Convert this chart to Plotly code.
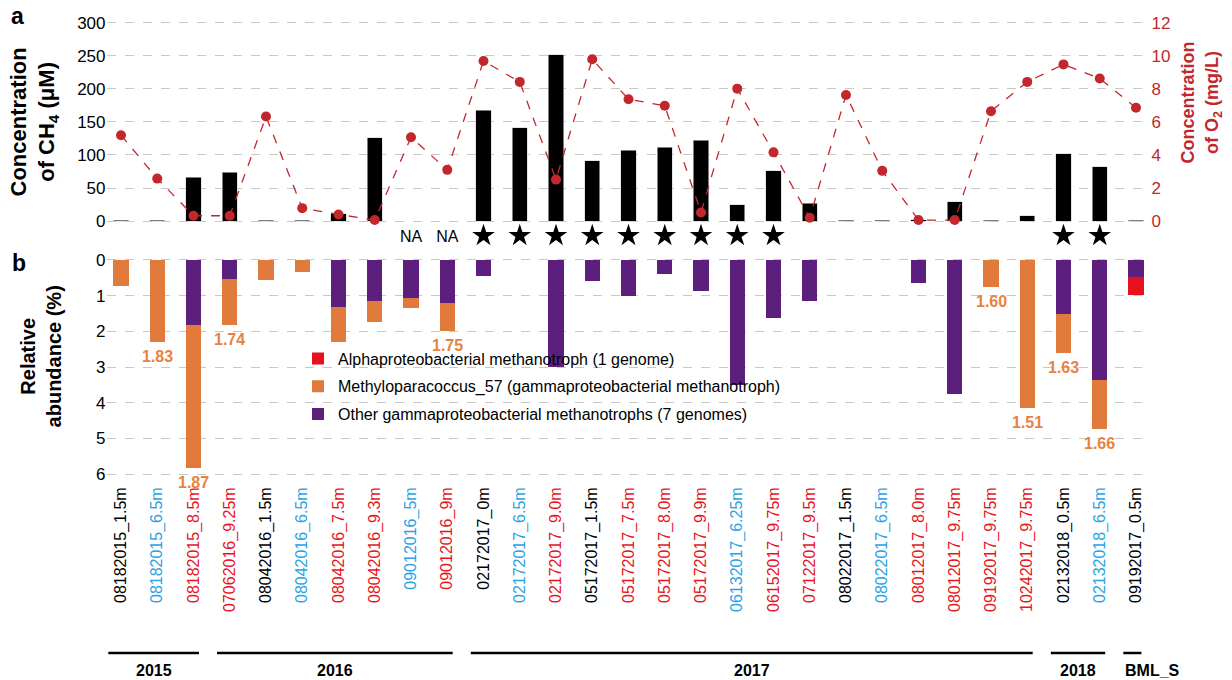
import plotly.graph_objects as go

# ---------------- data ----------------
samples = ["08182015_1.5m", "08182015_6.5m", "08182015_8.5m",
           "07062016_9.25m", "08042016_1.5m", "08042016_6.5m", "08042016_7.5m",
           "08042016_9.3m", "09012016_5m", "09012016_9m",
           "02172017_0m", "02172017_6.5m", "02172017_9.0m", "05172017_1.5m",
           "05172017_7.5m", "05172017_8.0m", "05172017_9.9m", "06132017_6.25m",
           "06152017_9.75m", "07122017_9.5m", "08022017_1.5m", "08022017_6.5m",
           "08012017_8.0m", "08012017_9.75m", "09192017_9.75m", "10242017_9.75m",
           "02132018_0.5m", "02132018_6.5m", "09192017_0.5m"]
label_colors = ["#000000", "#29a3e6", "#e8141e",
                "#e8141e", "#000000", "#29a3e6", "#e8141e", "#e8141e", "#29a3e6", "#e8141e",
                "#000000", "#29a3e6", "#e8141e", "#000000", "#e8141e", "#e8141e", "#e8141e",
                "#29a3e6", "#e8141e", "#e8141e", "#000000", "#29a3e6", "#e8141e", "#e8141e",
                "#e8141e", "#e8141e", "#000000", "#29a3e6", "#000000"]

ch4 = [1, 1, 66, 74, 1, 1, 11, 126, None, None,
       168, 141, 252, 91, 107, 112, 122, 25, 76, 27,
       1, 1, 2, 29, 1, 8, 102, 82, 1]
o2 = [5.2, 2.57, 0.32, 0.32, 6.33, 0.78, 0.4, 0.06, 5.07, 3.1,
      9.69, 8.43, 2.51, 9.8, 7.38, 6.98, 0.52, 8.02, 4.16, 0.2,
      7.64, 3.04, 0.06, 0.06, 6.65, 8.43, 9.49, 8.63, 6.86]
star_flag = [0, 0, 0, 0, 0, 0, 0, 0, 0, 0,
             1, 1, 1, 1, 1, 1, 1, 1, 1, 0,
             0, 0, 0, 0, 0, 0, 1, 1, 0]
na_flag = [0, 0, 0, 0, 0, 0, 0, 0, 1, 1,
           0, 0, 0, 0, 0, 0, 0, 0, 0, 0,
           0, 0, 0, 0, 0, 0, 0, 0, 0]

other_gamma = [0, 0, 1.81, 0.53, 0, 0, 1.32, 1.14, 1.06, 1.22,
               0.44, 0, 3.0, 0.58, 1.0, 0.39, 0.88, 3.5, 1.63, 1.14,
               0, 0, 0.66, 3.75, 0, 0, 1.51, 3.35, 0.49]
methylo57 = [0.73, 2.30, 4.02, 1.28, 0.57, 0.33, 0.98, 0.61, 0.29, 0.76,
             0, 0, 0, 0, 0, 0, 0, 0, 0, 0,
             0, 0, 0, 0, 0.76, 4.16, 1.11, 1.39, 0]
alpha = [0, 0, 0, 0, 0, 0, 0, 0, 0, 0,
         0, 0, 0, 0, 0, 0, 0, 0, 0, 0,
         0, 0, 0, 0, 0, 0, 0, 0, 0.49]
ratio_labels = [None, "1.83", "1.87", "1.74", None, None, None, None, None, "1.75",
                None, None, None, None, None, None, None, None, None, None,
                None, None, None, None, "1.60", "1.51", "1.63", "1.66", None]

groups = ["2015", "2016", "2017", "2018", "BML_S"]
group_first = [0, 3, 10, 26, 28]
group_last = [2, 9, 25, 27, 28]

ch4_ticks = [0, 50, 100, 150, 200, 250, 300]
o2_ticks = [0, 2, 4, 6, 8, 10, 12]
abund_ticks = [0, 1, 2, 3, 4, 5, 6]

# ---------------- style ----------------
FONT = "Liberation Sans, Arial, sans-serif"
O2_COL = "#c1272d"
PURPLE = "#5c1f7e"
ORANGE = "#e07b3c"
RED = "#e8101e"
LABEL_ORANGE = "#e8823f"
GRID = "#c8c8c8"
W, H = 1232, 680

def py(px):
    return (H - px) / H

xdom = [106.5 / W, 1150.5 / W]
xrange_ = [-0.4, 28.4]

fig = go.Figure()

# top panel
fig.add_trace(go.Bar(x=samples, y=ch4, marker=dict(color="black", line=dict(color="#d0d0d0", width=0.6)),
                     xaxis="x", yaxis="y", showlegend=False))
fig.add_trace(go.Scatter(x=samples, y=o2, mode="lines+markers", xaxis="x", yaxis="y2",
                         line=dict(color=O2_COL, dash="dash", width=1.3),
                         marker=dict(color=O2_COL, size=10), showlegend=False))
star_x = [s for s, f in zip(samples, star_flag) if f]
fig.add_trace(go.Scatter(x=star_x, y=[-22] * len(star_x), mode="markers", xaxis="x", yaxis="y",
                         marker=dict(symbol="star", size=17, color="black"),
                         cliponaxis=False, showlegend=False))
na_x = [s for s, f in zip(samples, na_flag) if f]
fig.add_trace(go.Scatter(x=na_x, y=[-26] * len(na_x), mode="text", text=["NA"] * len(na_x),
                         textfont=dict(size=16, color="black", family=FONT), xaxis="x", yaxis="y",
                         cliponaxis=False, showlegend=False))

# bottom panel
fig.add_trace(go.Bar(x=samples, y=other_gamma, name="Other gammaproteobacterial methanotrophs (7 genomes)",
                     marker=dict(color=PURPLE, line=dict(width=0)), xaxis="x2", yaxis="y3",
                     legendgroup="c", legendrank=3))
fig.add_trace(go.Bar(x=samples, y=methylo57, name="Methyloparacoccus_57 (gammaproteobacterial methanotroph)",
                     marker=dict(color=ORANGE, line=dict(width=0)), xaxis="x2", yaxis="y3",
                     legendgroup="b", legendrank=2))
fig.add_trace(go.Bar(x=samples, y=alpha, name="Alphaproteobacterial methanotroph (1 genome)",
                     marker=dict(color=RED, line=dict(width=0)), xaxis="x2", yaxis="y3",
                     legendgroup="a", legendrank=1))

for s, og, m, r in zip(samples, other_gamma, methylo57, ratio_labels):
    if r is not None:
        fig.add_annotation(text=f"<b>{r}</b>", x=s, y=og + m, xref="x2", yref="y3",
                           showarrow=False, xanchor="center", yanchor="top", yshift=-4,
                           font=dict(size=16, color=LABEL_ORANGE))

ticktext = [f'<span style="color:{c}">{s}</span>' for s, c in zip(samples, label_colors)]

fig.update_layout(
    width=W, height=H, margin=dict(l=0, r=0, t=0, b=0),
    paper_bgcolor="white", plot_bgcolor="white",
    font=dict(family=FONT, size=16, color="black"),
    barmode="stack", bargap=0.58,
    xaxis=dict(domain=xdom, anchor="y", type="category", range=xrange_, showticklabels=False,
               showgrid=False, showline=False, zeroline=False, ticks=""),
    yaxis=dict(domain=[py(239.9), py(14.4)], range=[-30, 310], tickvals=ch4_ticks,
               showgrid=True, gridcolor=GRID, griddash="dash", gridwidth=1, zeroline=False,
               showline=False, ticks="", tickfont=dict(size=17)),
    yaxis2=dict(overlaying="y", side="right", anchor="x", range=[-1.2, 12.4], tickvals=o2_ticks,
                showgrid=False, zeroline=False, showline=False, ticks="",
                tickfont=dict(size=17, color=O2_COL)),
    xaxis2=dict(domain=xdom, anchor="y3", type="category", range=xrange_, tickangle=-90,
                tickvals=samples, ticktext=ticktext, tickfont=dict(size=16),
                showgrid=False, showline=False, zeroline=False, ticks=""),
    yaxis3=dict(domain=[py(483.3), py(250.0)], range=[6.25, -0.25], tickvals=abund_ticks,
                showgrid=True, gridcolor=GRID, griddash="dash", gridwidth=1, zeroline=False,
                showline=False, ticks="", tickfont=dict(size=17)),
    legend=dict(x=298 / W, y=py(341), xanchor="left", yanchor="top", bgcolor="rgba(0,0,0,0)",
                traceorder="grouped", tracegroupgap=4, font=dict(size=16)),
)

# panel letters and axis titles
fig.add_annotation(text="<b>a</b>", xref="paper", yref="paper", x=17 / W, y=py(14), showarrow=False,
                   font=dict(size=23), xanchor="center", yanchor="middle")
fig.add_annotation(text="<b>b</b>", xref="paper", yref="paper", x=19 / W, y=py(262), showarrow=False,
                   font=dict(size=23), xanchor="center", yanchor="middle")
fig.add_annotation(text="<b>Concentration<br>of CH<sub>4</sub> (μM)</b>", xref="paper", yref="paper",
                   x=34 / W, y=py(121), textangle=-90, showarrow=False, font=dict(size=22),
                   xanchor="center", yanchor="middle")
fig.add_annotation(text="<b>Concentration<br>of O<sub>2</sub> (mg/L)</b>", xref="paper", yref="paper",
                   x=1201 / W, y=py(101), textangle=-90, showarrow=False,
                   font=dict(size=18, color=O2_COL), xanchor="center", yanchor="middle")
fig.add_annotation(text="<b>Relative<br>abundance (%)</b>", xref="paper", yref="paper",
                   x=41 / W, y=py(356), textangle=-90, showarrow=False, font=dict(size=20),
                   xanchor="center", yanchor="middle")

# year group brackets
for g, a, b in zip(groups, group_first, group_last):
    x0, x1 = a - 0.35, b + 0.15
    fig.add_shape(type="line", xref="x2", yref="paper", x0=x0, x1=x1, y0=py(654), y1=py(654),
                  line=dict(color="black", width=2.5))
    if g == "BML_S":
        fig.add_annotation(text=f"<b>{g}</b>", xref="x2", yref="paper", x=x0, y=py(671),
                           showarrow=False, xanchor="left", yanchor="middle", font=dict(size=16))
    else:
        fig.add_annotation(text=f"<b>{g}</b>", xref="x2", yref="paper", x=(x0 + x1) / 2, y=py(671),
                           showarrow=False, xanchor="center", yanchor="middle", font=dict(size=16))

fig.write_html("out.html", config={"displayModeBar": False},
               post_script="document.body.style.margin='0px';document.body.style.overflow='hidden';")
